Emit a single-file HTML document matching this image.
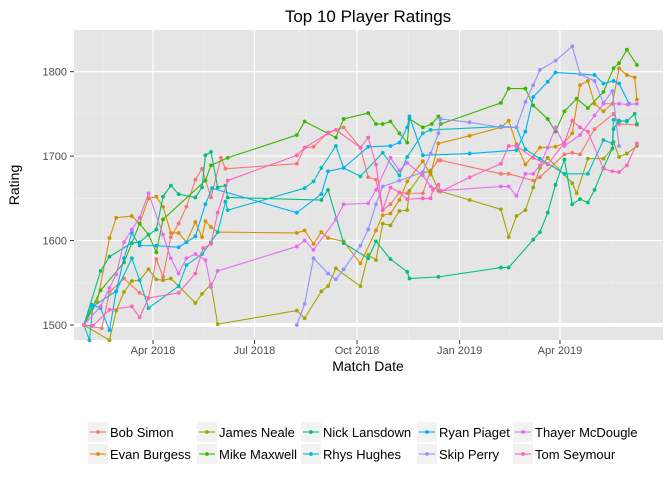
<!DOCTYPE html>
<html><head><meta charset="utf-8"><style>
body{margin:0;background:#fff;font-family:"Liberation Sans",sans-serif}
svg text{font-family:"Liberation Sans",sans-serif}
</style></head><body>
<svg id="chart" width="672" height="480" viewBox="0 0 672 480" xmlns="http://www.w3.org/2000/svg">
<rect width="672" height="480" fill="#fff"/>
<text x="368" y="22" text-anchor="middle" font-size="17" fill="#000">Top 10 Player Ratings</text>
<rect x="74" y="30" width="589" height="310" fill="#e5e5e5"/>
<g id="grid"></g>
<g id="axes"></g>
<g id="series"></g>
<text x="368" y="371" text-anchor="middle" font-size="14">Match Date</text>
<text transform="translate(19,185) rotate(-90)" text-anchor="middle" font-size="14">Rating</text>
<g id="legend"></g>
</svg>
<script>
// days since 2018-01-01, ratings
const names = ["Bob Simon","Evan Burgess","James Neale","Mike Maxwell","Nick Lansdown","Rhys Hughes","Ryan Piaget","Skip Perry","Thayer McDougle","Tom Seymour"];
const colors = ["#F8766D","#D89000","#A3A500","#39B600","#00BF7D","#00BFC4","#00B0F6","#9590FF","#E76BF3","#FF62BC"];
const bobDays = [28,44,51,64,78,86,93,99,106,113,120,128,134,142,151,155,219,226,234,247,261,276,283,290,296,303,311,318,332,339,346,348,402,409,431,437,459,466,473,486,503,508,524];
const bobRatings = [1500,1496,1539,1555,1538,1532,1578,1557,1604,1620,1640,1672,1685,1651,1698,1685,1691,1710,1711,1728,1734,1710,1675,1672,1636,1643,1657,1656,1656,1683,1695,1695,1679,1679,1671,1675,1702,1704,1702,1732,1750,1738,1737];
const evanDays = [28,40,51,57,71,78,86,93,99,106,113,120,128,134,137,142,148,219,226,234,241,247,261,276,290,296,303,311,318,332,339,346,374,402,409,416,424,437,451,459,466,473,480,486,494,502,508,515,522,524];
const evanRatings = [1500,1527,1603,1627,1629,1620,1650,1652,1640,1609,1609,1598,1622,1604,1623,1616,1610,1609,1612,1596,1610,1603,1599,1573,1612,1630,1632,1648,1670,1694,1678,1715,1724,1734,1742,1714,1690,1710,1711,1716,1727,1784,1789,1762,1753,1762,1804,1796,1793,1767];
const jamesDays = [28,51,57,64,71,78,86,93,99,106,113,128,134,142,148,219,226,241,247,254,276,283,290,296,303,311,318,320,332,339,346,374,402,409,416,424,431,437,444,466,470,480,494,502,503,508,515,524];
const jamesRatings = [1500,1482,1517,1539,1552,1553,1566,1554,1553,1555,1546,1526,1537,1548,1501,1517,1508,1540,1546,1567,1546,1583,1577,1620,1618,1635,1636,1659,1681,1681,1659,1648,1637,1604,1629,1636,1663,1686,1698,1668,1656,1697,1697,1709,1717,1699,1703,1712];
const mikeDays = [28,43,64,78,86,93,99,137,142,157,219,226,254,261,283,290,296,303,311,318,320,332,340,346,348,402,409,424,431,444,451,459,470,480,494,503,508,515,524];
const mikeRatings = [1500,1541,1574,1620,1607,1586,1625,1671,1689,1698,1725,1741,1722,1744,1751,1738,1738,1741,1727,1716,1744,1734,1738,1747,1738,1763,1780,1780,1760,1744,1729,1753,1768,1757,1776,1804,1810,1826,1808];
const nickDays = [28,43,51,71,78,86,93,99,106,113,128,134,137,142,148,155,157,241,247,261,283,290,303,318,320,346,402,409,431,437,444,451,459,466,473,480,486,494,502,503,508,515,522,524];
const nickRatings = [1500,1564,1581,1597,1598,1607,1613,1652,1665,1655,1651,1663,1701,1705,1663,1665,1651,1648,1660,1597,1579,1599,1578,1563,1555,1557,1568,1568,1601,1610,1633,1666,1696,1643,1649,1645,1660,1686,1709,1732,1742,1741,1750,1738];
const rhysDays = [28,33,36,57,71,78,86,113,120,134,142,148,155,157,226,234,241,254,261,276,296,311,318,332,339,402,416,424,437,459,480,494,502,503,508,515];
const rhysRatings = [1500,1482,1522,1540,1579,1553,1520,1546,1571,1584,1598,1610,1646,1636,1662,1670,1686,1712,1686,1676,1704,1677,1699,1727,1731,1735,1734,1708,1697,1679,1679,1719,1715,1743,1741,1742];
const ryanDays = [28,35,43,51,57,64,71,78,93,113,120,128,137,143,219,241,247,261,283,303,311,318,320,332,374,416,424,431,444,451,486,494,503,508,517];
const ryanRatings = [1500,1524,1520,1494,1540,1579,1609,1594,1594,1592,1598,1605,1643,1662,1633,1655,1682,1686,1711,1712,1716,1734,1747,1701,1703,1707,1729,1770,1788,1799,1796,1786,1789,1786,1762];
const skipDays = [219,226,234,247,254,261,276,283,290,296,311,332,339,346,348,374,402,416,424,431,437,451,466,473,486,494,502,508];
const skipRatings = [1500,1525,1579,1561,1554,1566,1594,1613,1643,1664,1671,1681,1703,1727,1744,1740,1734,1734,1764,1784,1802,1813,1830,1797,1789,1763,1777,1712];
const thayerDays = [28,43,51,57,64,71,78,86,99,106,113,120,128,137,142,148,219,226,234,254,261,283,290,303,311,318,332,339,348,402,409,416,424,431,437,444,451,459,473,486,494,508,516,524];
const thayerRatings = [1500,1522,1544,1560,1598,1613,1627,1656,1607,1579,1561,1579,1584,1577,1545,1564,1593,1600,1589,1625,1643,1644,1660,1698,1683,1692,1677,1664,1659,1664,1664,1653,1679,1679,1689,1710,1734,1712,1725,1748,1762,1762,1761,1762];
const tomDays = [28,36,51,71,78,86,113,128,135,142,148,157,219,226,247,254,276,283,290,296,303,311,318,332,339,341,346,348,374,402,409,416,431,444,459,466,473,480,494,502,508,515,524];
const tomRatings = [1500,1499,1518,1522,1509,1532,1538,1561,1591,1596,1633,1671,1701,1710,1727,1731,1710,1722,1690,1636,1663,1657,1649,1650,1650,1660,1666,1658,1675,1691,1712,1712,1698,1690,1716,1742,1734,1729,1685,1682,1681,1689,1715];
const allDays = [bobDays,evanDays,jamesDays,mikeDays,nickDays,rhysDays,ryanDays,skipDays,thayerDays,tomDays];
const allRatings = [bobRatings,evanRatings,jamesRatings,mikeRatings,nickRatings,rhysRatings,ryanRatings,skipRatings,thayerRatings,tomRatings];
const yTicks = [1500,1600,1700,1800];
const xTickDays = [90,181,273,365,455];
const xTickLabels = ["Apr 2018","Jul 2018","Oct 2018","Jan 2019","Apr 2019"];

const NS="http://www.w3.org/2000/svg";
const X0=74,X1=663,Y0=30,Y1=340;
function xs(d){return 153+(d-90)*1.115;}
function ys(r){return 325-(r-1500)*0.8445;}
function mk(tag,attrs,parent){const e=document.createElementNS(NS,tag);for(const k in attrs)e.setAttribute(k,attrs[k]);parent.appendChild(e);return e;}
const grid=document.getElementById('grid'),axes=document.getElementById('axes'),ser=document.getElementById('series'),leg=document.getElementById('legend');
for(let i=0;i<yTicks.length+1;i++){const r=yTicks[0]-50+i*100;const y=ys(r);if(y>Y0&&y<Y1){const l=mk('line',{x1:X0,x2:X1,y1:y,y2:y,stroke:'#f2f2f2','stroke-width':0.6},grid);}}
const mids=[xTickDays[0]-45];for(let i=0;i<xTickDays.length-1;i++)mids.push((xTickDays[i]+xTickDays[i+1])/2);mids.push(xTickDays[xTickDays.length-1]+46);
mids.forEach(d=>{const x=xs(d);if(x>X0&&x<X1){const l=mk('line',{x1:x,x2:x,y1:Y0,y2:Y1,stroke:'#f2f2f2','stroke-width':0.6},grid);}});
yTicks.forEach((r,i)=>{const y=ys(r);
 const l=mk('line',{x1:X0,x2:X1,y1:y,y2:y,stroke:'#fff','stroke-width':i===0?4:1.2},grid);
 const t=mk('line',{x1:70,x2:74,y1:y,y2:y,stroke:'#333','stroke-width':1},axes);
 const tx=mk('text',{x:67,y:y+4,'text-anchor':'end','font-size':11,fill:'#4d4d4d'},axes);tx.textContent=r;});
xTickDays.forEach((d,i)=>{const x=xs(d);
 const l=mk('line',{x1:x,x2:x,y1:Y0,y2:Y1,stroke:'#fff','stroke-width':1.2},grid);
 const t=mk('line',{x1:x,x2:x,y1:340,y2:344,stroke:'#333','stroke-width':1},axes);
 const tx=mk('text',{x:x,y:354,'text-anchor':'middle','font-size':11,fill:'#4d4d4d'},axes);tx.textContent=xTickLabels[i];});
allDays.forEach((days,s)=>{const rs=allRatings[s];const g=mk('g',{},ser);
 
 
 const p=mk('polyline',{points:days.map((d,i)=>xs(d)+','+ys(rs[i])).join(' '),fill:'none',stroke:colors[s],'stroke-width':1.1},g);
 
 
 days.forEach((d,i)=>{const c=mk('circle',{cx:xs(d),cy:ys(rs[i]),r:1.9,fill:colors[s]},g);
  
  });});
const lx=[88,197,301,417,513];
names.forEach((n,i)=>{const col=Math.floor(i/2),row=i%2;const x=lx[col],y=422+row*22;
 const g=mk('g',{},leg);
 
 
 mk('rect',{x:x,y:y,width:20,height:20,fill:'#f2f2f2'},g);
 mk('line',{x1:x+2,x2:x+18,y1:y+10,y2:y+10,stroke:colors[i],'stroke-width':1.1},g);
 mk('circle',{cx:x+10,cy:y+10,r:1.9,fill:colors[i]},g);
 const t=mk('text',{x:x+22,y:y+15,'font-size':13,fill:'#000'},g);t.textContent=n;});
</script>
</body></html>
